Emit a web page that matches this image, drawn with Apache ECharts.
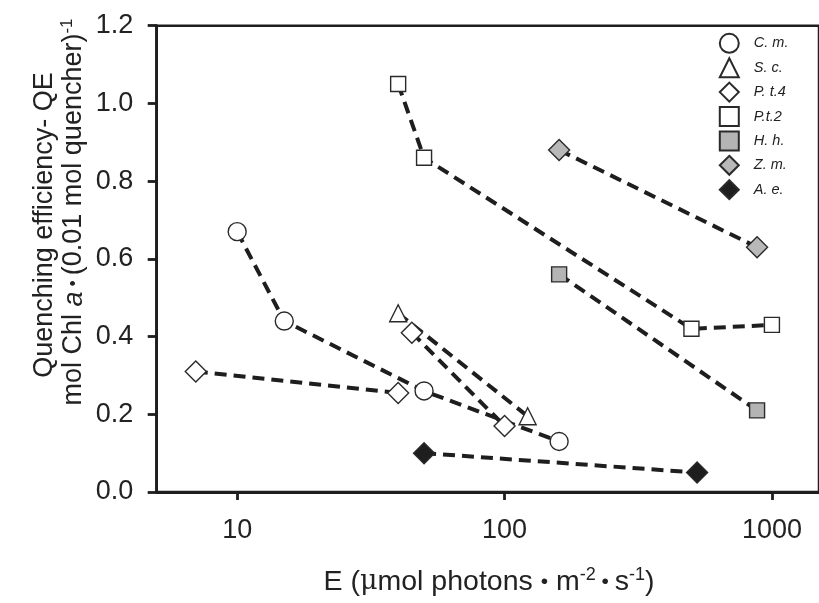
<!DOCTYPE html>
<html>
<head>
<meta charset="utf-8">
<script src="https://cdn.jsdelivr.net/npm/echarts@6/dist/echarts.min.js"></script>
<style>
html,body{margin:0;padding:0;background:#fff;}
#chart{width:819px;height:603px;}
</style>
</head>
<body>
<div id="chart"></div>
<script>
// ---- data ----
const xTickValues = [10, 100, 1000];
const yTickMin = 0, yTickMax = 1.2, yTickStep = 0.2;

const legendNames = ['C. m.', 'S. c.', 'P. t.4', 'P.t.2', 'H. h.', 'Z. m.', 'A. e.'];

const cmE   = [10, 15, 50, 160];
const cmQE  = [0.67, 0.44, 0.26, 0.13];
const scE   = [40, 122];
const scQE  = [0.46, 0.195];
const pt4aE  = [7, 40];
const pt4aQE = [0.31, 0.255];
const pt4bE  = [45, 100];
const pt4bQE = [0.41, 0.17];
const pt2E  = [40, 50, 500, 1000];
const pt2QE = [1.05, 0.86, 0.42, 0.43];
const hhE   = [160, 880];
const hhQE  = [0.56, 0.21];
const zmE   = [160, 880];
const zmQE  = [0.88, 0.63];
const aeE   = [50, 525];
const aeQE  = [0.10, 0.05];

// ---- helpers ----
const FONT = "'Liberation Sans', Arial, Helvetica, sans-serif";
const INK = '#1e1e1e';
function pairs(xs, ys){ return xs.map((x,i)=>[x, ys[i]]); }

function mkSeries(name, xs, ys, symbol, size, fill){
  return {
    name: name,
    type: 'line',
    data: pairs(xs, ys),
    symbol: symbol,
    symbolSize: size,
    showAllSymbol: true,
    z: 3,
    lineStyle: { color: INK, width: 4, type: [12, 7] },
    itemStyle: { color: fill, borderColor: '#2a2a2a', borderWidth: 1.4, opacity: 1 },
    emphasis: { disabled: true },
    animation: false
  };
}

const series = [
  mkSeries('C. m.', cmE, cmQE, 'circle', 18, '#ffffff'),
  mkSeries('S. c.', scE, scQE, 'triangle', 17, '#ffffff'),
  mkSeries('P. t.4', pt4aE, pt4aQE, 'diamond', 21, '#ffffff'),
  mkSeries('P. t.4', pt4bE, pt4bQE, 'diamond', 21, '#ffffff'),
  mkSeries('P.t.2', pt2E, pt2QE, 'rect', 15, '#ffffff'),
  mkSeries('H. h.', hhE, hhQE, 'rect', 15, '#b4b4b4'),
  mkSeries('Z. m.', zmE, zmQE, 'diamond', 21, '#b8b8b8'),
  mkSeries('A. e.', aeE, aeQE, 'diamond', 21, '#1e1e1e')
];

const legendIcons = ['circle', 'triangle', 'diamond', 'rect', 'rect', 'diamond', 'diamond'];

const chart = echarts.init(document.getElementById('chart'), null, {renderer: 'canvas'});

const option = {
  animation: false,
  backgroundColor: '#ffffff',
  grid: {
    left: 156.7, top: 25.7, width: 664.9, height: 466.3,
    show: true, borderColor: INK, borderWidth: 2.5, backgroundColor: 'transparent'
  },
  legend: {
    orient: 'vertical',
    left: 718.8, top: 32.8,
    padding: 0,
    itemWidth: 19, itemHeight: 19, itemGap: 3.4,
    data: legendNames.map((n,i)=>({ name: n, icon: legendIcons[i] })),
    textStyle: { fontFamily: FONT, fontSize: 14.5, fontStyle: 'italic', color: '#222', padding: [0,0,0,10] },
    selectedMode: false
  },
  xAxis: {
    type: 'log', logBase: 10, min: 5, max: 1500,
    axisLine: { show: true, onZero: false, lineStyle: { color: INK, width: 2.8 } },
    axisTick: { show: true, inside: false, length: 8, lineStyle: { color: INK, width: 2.8 }, customValues: xTickValues },
    axisLabel: { show: true, margin: 25, fontFamily: FONT, fontSize: 27, color: '#222', customValues: xTickValues,
                 formatter: v => String(Math.round(v)) },
    splitLine: { show: false },
    minorTick: { show: false }
  },
  yAxis: {
    type: 'value', min: yTickMin, max: yTickMax, interval: yTickStep,
    axisLine: { show: true, lineStyle: { color: INK, width: 2.8 } },
    axisTick: { show: true, inside: false, length: 9, lineStyle: { color: INK, width: 2.8 } },
    axisLabel: { margin: 23.5, fontFamily: FONT, fontSize: 27, color: '#222', formatter: v => v.toFixed(1) },
    splitLine: { show: false }
  },
  graphic: [
    {
      type: 'text', x: 45, y: 225, rotation: Math.PI/2,
      style: { text: 'Quenching efficiency- QE', fontFamily: FONT, fontSize: 27, fill: '#222',
               align: 'center', verticalAlign: 'middle' }
    },
    {
      type: 'text', x: 74, y: 212, rotation: Math.PI/2,
      style: {
        text: '{n|mol Chl }{i|a}{d| • }{n|(0.01 mol quencher)}{s|-1}',
        align: 'center', verticalAlign: 'middle',
        rich: {
          n: { fontFamily: FONT, fontSize: 27, fill: '#222', lineHeight: 30 },
          i: { fontFamily: FONT, fontSize: 27, fontStyle: 'italic', fill: '#222', lineHeight: 30 },
          d: { fontFamily: FONT, fontSize: 18, fill: '#222', lineHeight: 30 },
          s: { fontFamily: FONT, fontSize: 17, fill: '#222', lineHeight: 17, verticalAlign: 'top' }
        }
      }
    },
    {
      type: 'text', x: 489, y: 582,
      style: {
        text: '{n|E (}{m|μ}{n|mol photons }{d|•}{n| m}{s|-2}{d| • }{n|s}{s|-1}{n|)}',
        align: 'center', verticalAlign: 'middle',
        rich: {
          n: { fontFamily: FONT, fontSize: 28.5, fill: '#222', lineHeight: 32 },
          m: { fontFamily: "'DejaVu Serif', serif", fontSize: 27, fill: '#222', lineHeight: 32 },
          d: { fontFamily: FONT, fontSize: 21, fill: '#222', lineHeight: 32 },
          s: { fontFamily: FONT, fontSize: 18, fill: '#222', lineHeight: 18, verticalAlign: 'top' }
        }
      }
    }
  ],
  series: series
};
chart.setOption(option);
</script>
</body>
</html>
